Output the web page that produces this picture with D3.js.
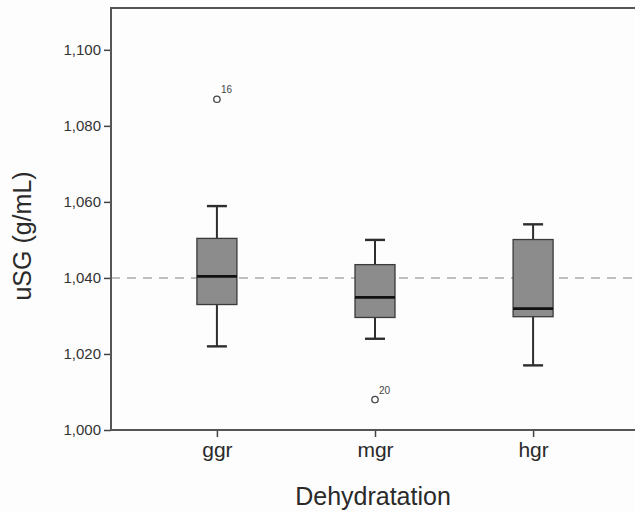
<!DOCTYPE html>
<html>
<head>
<meta charset="utf-8">
<script src="https://cdn.jsdelivr.net/npm/d3@7"></script>
<style>
body { margin: 0; background: #fdfdfd; }
svg { display: block; font-family: "Liberation Sans", Arial, sans-serif; }
</style>
</head>
<body>
<svg></svg>
<script>
// values
let groups = ["ggr", "mgr", "hgr"]
let whiskerLow = [1.022, 1.024, 1.017]
let q1 = [1.033, 1.0296, 1.0298]
let median = [1.0404, 1.0349, 1.0319]
let q3 = [1.0504, 1.0435, 1.0501]
let whiskerHigh = [1.0589, 1.050, 1.0541]
let outlierGroup = ["ggr", "mgr"]
let outlierValue = [1.087, 1.008]
let outlierCase = ["16", "20"]
let yTicks = [1.000, 1.020, 1.040, 1.060, 1.080, 1.100]
let refLine = 1.040

let width = 635;
let height = 512;

let svg = d3.select("svg")
    .attr("width", width)
    .attr("height", height)

let plotLeft = 111, plotTop = 8, plotBottom = 430, plotRight = 639

let x = d3.scalePoint()
    .domain(groups)
    .range([plotLeft, plotRight])
    .padding(0.67)

let y = d3.scaleLinear()
    .domain([1.0, 1.111])
    .range([plotBottom, plotTop])

let locale = d3.formatLocale({ decimal: ",", thousands: ".", grouping: [3], currency: ["", ""] })
let fmt = locale.format(".3f")

let boxW = 40

// reference line
svg.append("line")
    .attr("x1", plotLeft).attr("x2", plotRight)
    .attr("y1", y(refLine)).attr("y2", y(refLine))
    .style("stroke", "#ababab")
    .style("stroke-width", 1.6)
    .style("stroke-dasharray", "9,7")

let rows = groups.map((g, i) => ({
    g: g, lo: whiskerLow[i], q1: q1[i], med: median[i], q3: q3[i], hi: whiskerHigh[i]
}))

let box = svg.selectAll(".box")
    .data(rows)
    .join("g")
    .attr("class", "box")

// whiskers
box.append("line")
    .attr("x1", d => x(d.g)).attr("x2", d => x(d.g))
    .attr("y1", d => y(d.hi)).attr("y2", d => y(d.q3))
    .style("stroke", "#2e2e2e").style("stroke-width", 2)
box.append("line")
    .attr("x1", d => x(d.g)).attr("x2", d => x(d.g))
    .attr("y1", d => y(d.q1)).attr("y2", d => y(d.lo))
    .style("stroke", "#2e2e2e").style("stroke-width", 2)
box.selectAll(".cap")
    .data(d => [{ g: d.g, v: d.hi }, { g: d.g, v: d.lo }])
    .join("line")
    .attr("x1", d => x(d.g) - boxW / 4).attr("x2", d => x(d.g) + boxW / 4)
    .attr("y1", d => y(d.v)).attr("y2", d => y(d.v))
    .style("stroke", "#2e2e2e").style("stroke-width", 2.4)

box.append("rect")
    .attr("x", d => x(d.g) - boxW / 2)
    .attr("width", boxW)
    .attr("y", d => y(d.q3))
    .attr("height", d => y(d.q1) - y(d.q3))
    .style("fill", "#8c8c8c")
    .style("stroke", "#3a3a3a")
    .style("stroke-width", 1.3)

box.append("line")
    .attr("x1", d => x(d.g) - boxW / 2).attr("x2", d => x(d.g) + boxW / 2)
    .attr("y1", d => y(d.med)).attr("y2", d => y(d.med))
    .style("stroke", "#111").style("stroke-width", 2.8)

// outliers
let outliers = outlierGroup.map((g, i) => ({ g: g, v: outlierValue[i], label: outlierCase[i] }))

svg.selectAll(".out")
    .data(outliers)
    .join("circle")
    .attr("cx", d => x(d.g))
    .attr("cy", d => y(d.v))
    .attr("r", 3.2)
    .style("fill", "white")
    .style("stroke", "#444")
    .style("stroke-width", 1.3)

svg.selectAll(".outlabel")
    .data(outliers)
    .join("text")
    .attr("x", d => x(d.g) + 4)
    .attr("y", d => y(d.v) - 6)
    .text(d => d.label)
    .style("font-size", "10px")
    .style("fill", "#444")

// axes
let yAxis = svg.append("g")
    .attr("transform", `translate(${plotLeft},0)`)
    .call(d3.axisLeft(y).tickValues(yTicks).tickFormat(fmt).tickSize(7).tickPadding(3))
yAxis.select(".domain").remove()
yAxis.selectAll("line").style("stroke", "#444").style("stroke-width", 1.5)
yAxis.selectAll("text").style("font-size", "15px").style("fill", "#333")

let xAxis = svg.append("g")
    .attr("transform", `translate(0,${plotBottom})`)
    .call(d3.axisBottom(x).tickSize(7).tickPadding(5))
xAxis.select(".domain").remove()
xAxis.selectAll("line").style("stroke", "#444").style("stroke-width", 1.5)
xAxis.selectAll("text").style("font-size", "21px").style("fill", "#2a2a2a")

// frame
svg.append("path")
    .attr("d", `M${plotRight},${plotTop}H${plotLeft}V${plotBottom}H${plotRight}`)
    .style("fill", "none")
    .style("stroke", "#555")
    .style("stroke-width", 2)

svg.append("text")
    .attr("x", 373)
    .attr("y", 505)
    .attr("text-anchor", "middle")
    .text("Dehydratation")
    .style("font-size", "25px")
    .style("fill", "#2a2a2a")

svg.append("text")
    .attr("transform", "translate(31,236) rotate(-90)")
    .attr("text-anchor", "middle")
    .text("uSG (g/mL)")
    .style("font-size", "25px")
    .style("fill", "#2a2a2a")
</script>
</body>
</html>
